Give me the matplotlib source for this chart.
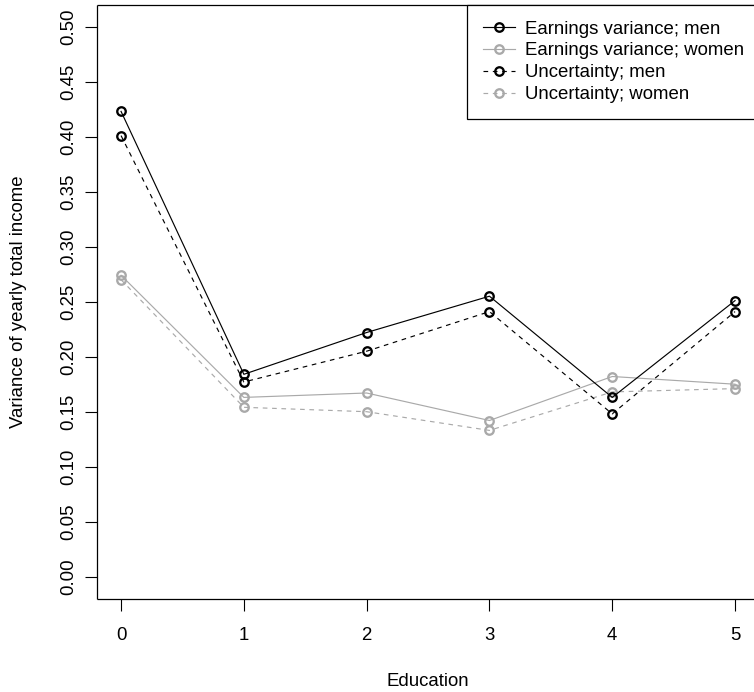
import matplotlib
matplotlib.use("Agg")
import matplotlib.pyplot as plt
import numpy as np

plt.rcParams['font.family'] = ['Liberation Sans', 'DejaVu Sans']

# education levels
education = [0, 1, 2, 3, 4, 5]

# values
earn_men = [0.423, 0.184, 0.222, 0.255, 0.163, 0.251]
earn_women = [0.274, 0.163, 0.167, 0.142, 0.182, 0.175]
unc_men = [0.401, 0.177, 0.205, 0.241, 0.148, 0.241]
unc_women = [0.270, 0.154, 0.150, 0.133, 0.168, 0.171]

y_ticks = [0.00, 0.05, 0.10, 0.15, 0.20, 0.25, 0.30, 0.35, 0.40, 0.45, 0.50]

W, H = 754, 692
fig = plt.figure(figsize=(W / 100, H / 100), dpi=100)
# plot region in pixels; the R plot box runs on to x=759.6, past the picture,
# so the axes stop at the figure edge and xlim is cut to match
left, right, top, bottom = 96.5, 754.0, 4.7, 598.7
box_right = 759.6
ax = fig.add_axes([left / W, 1 - bottom / H, (right - left) / W, (bottom - top) / H])

fs = 13.4
gray = '#A9A9A9'
lw = 0.84
mew = 1.66
ms = 6.1
style = dict(marker='o', markerfacecolor='none', markersize=ms, markeredgewidth=mew,
             linewidth=lw, clip_on=False)

l2, = ax.plot(education, earn_women, color=gray, label='Earnings variance; women', **style)
l4, = ax.plot(education, unc_women, color=gray, linestyle=(0, (4, 4)),
              label='Uncertainty; women', **style)
l1, = ax.plot(education, earn_men, color='black', label='Earnings variance; men', **style)
l3, = ax.plot(education, unc_men, color='black', linestyle=(0, (4, 4)),
              label='Uncertainty; men', **style)

x0, x1 = -0.2, 5.2
ax.set_xlim(x0, x0 + (x1 - x0) * (right - left) / (box_right - left))
ax.set_ylim(-0.02, 0.52)
ax.set_xticks(education)
ax.set_yticks(y_ticks)
ax.set_yticklabels(['%.2f' % v for v in y_ticks], rotation=90, va='center')

for s in ax.spines.values():
    s.set_linewidth(0.9)
    s.set_color('black')
    s.set_capstyle('butt')
ax.spines['right'].set_visible(False)
ax.tick_params(direction='out', length=8.4, width=0.8, labelsize=fs, color='black')
ax.tick_params(axis='x', pad=12)
ax.tick_params(axis='y', pad=5.5)

fig.text((left + box_right) / 2 / W, 1 - 686 / H, 'Education', fontsize=fs,
         ha='center', va='baseline')
fig.text(18.6 / W, 1 - (top + bottom) / 2 / H, 'Variance of yearly total income',
         fontsize=fs, rotation=90, ha='center', va='center')

leg = fig.legend(handles=[l1, l2, l3, l4], loc='upper right',
                 bbox_to_anchor=(box_right / W, 1 - top / H), bbox_transform=fig.transFigure,
                 borderaxespad=0, fontsize=fs, numpoints=1, fancybox=False,
                 framealpha=1, edgecolor='black', borderpad=0.85, labelspacing=0.26,
                 handlelength=1.7, handletextpad=0.53)
leg.get_frame().set_linewidth(0.9)

fig.savefig('out.png', dpi=100)
